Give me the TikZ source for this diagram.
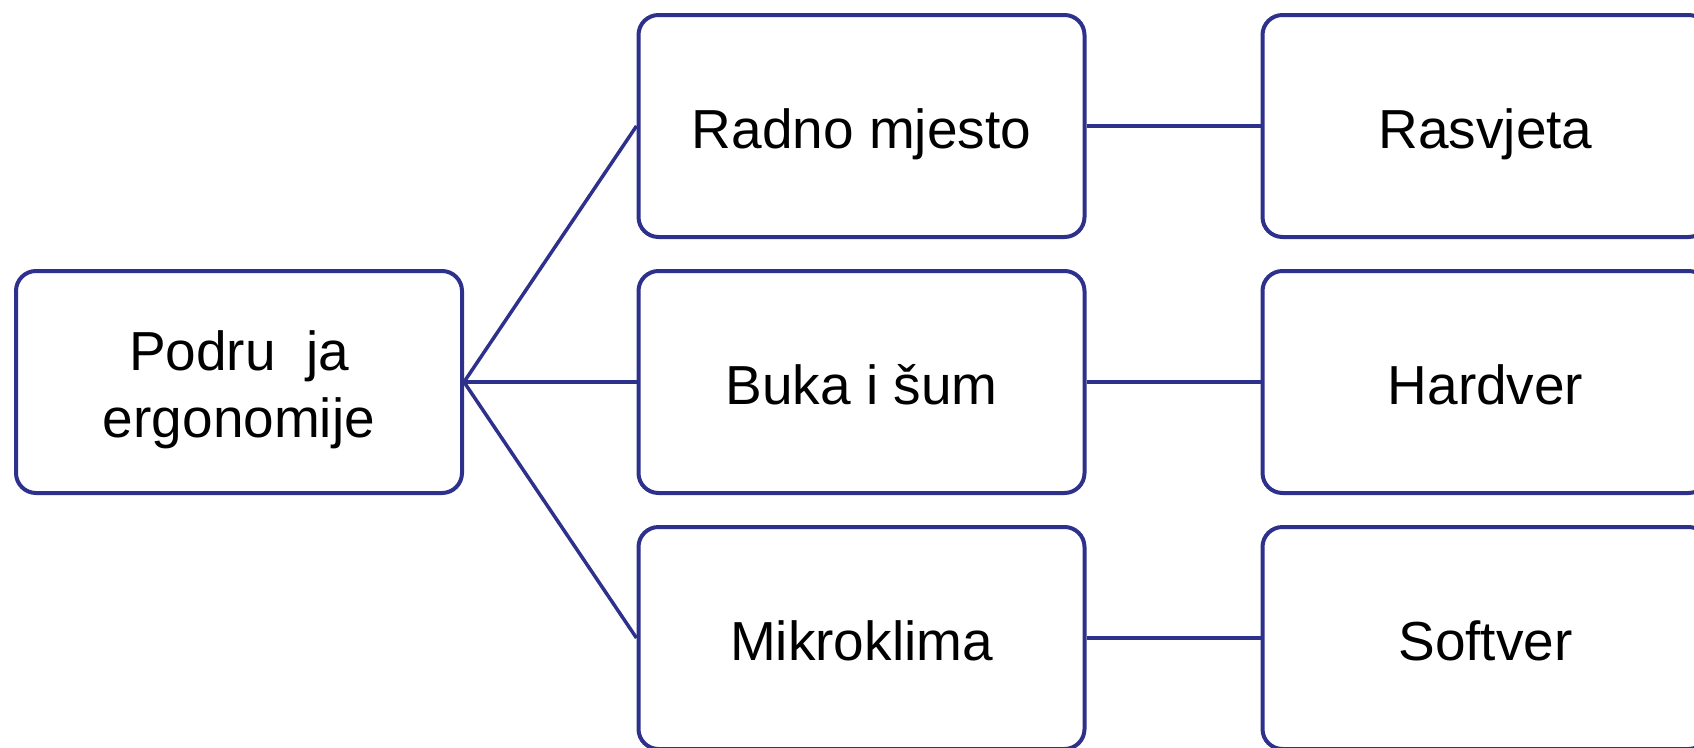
\documentclass[tikz,border=0pt]{standalone}
\usepackage{fontspec}
\setmainfont{Liberation Sans}
\definecolor{boxblue}{RGB}{46,49,140}
\begin{document}
\begin{tikzpicture}[x=1pt,y=-1pt,
  card/.style={draw=boxblue, line width=4pt, rounded corners=20pt, fill=white,
    minimum width=446pt, minimum height=222pt, inner sep=0pt,
    text height=44pt, text depth=0pt,
    align=center, font=\fontsize{55}{67}\selectfont},
  link/.style={draw=boxblue, line width=3.5pt}]
\useasboundingbox (0,0) rectangle (1694,747);

% root (two lines: room for both lines above the last baseline)
\node[card, text height=110pt] (root) at (239,382) {Podru\hspace{0.55em}ja\\ergonomije};

% first level
\node[card] (radno) at (861.5,126) {Radno mjesto};
\node[card] (buka)  at (861.5,382) {Buka i šum};
\node[card] (mikro) at (861.5,638) {Mikroklima};

% second level
\node[card] (rasv) at (1485.5,126) {Rasvjeta};
\node[card] (hard) at (1485.5,382) {Hardver};
\node[card] (soft) at (1485.5,638) {Softver};

% connectors
\draw[link] (root.east) -- (radno.west);
\draw[link] (root.east) -- (buka.west);
\draw[link] (root.east) -- (mikro.west);
\draw[link] (radno.east) -- (rasv.west);
\draw[link] (buka.east) -- (hard.west);
\draw[link] (mikro.east) -- (soft.west);
\end{tikzpicture}
\end{document}
